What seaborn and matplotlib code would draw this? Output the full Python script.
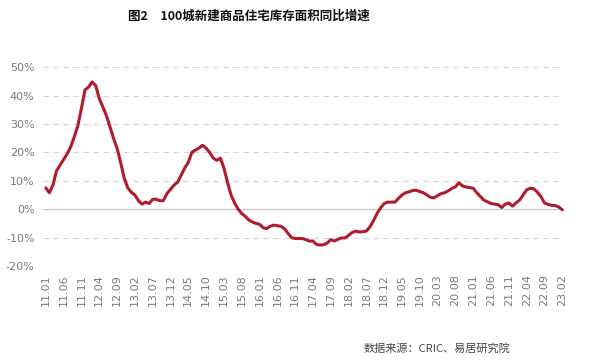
import numpy as np
import pandas as pd
import matplotlib
matplotlib.use("Agg")
import matplotlib.pyplot as plt
import seaborn as sns

# monthly YoY growth (%) of new housing inventory area, 2011.01 - 2023.02
growth = [
    7.5, 5.8, 8.5, 13.5, 15.5, 17.5, 19.5, 22.0, 25.5, 29.5,
    35.5, 42.0, 43.0, 44.8, 43.5, 39.0, 36.0, 33.0, 29.0, 25.0,
    21.5, 16.5, 11.0, 7.5, 6.0, 5.0, 3.0, 1.8, 2.5, 2.0,
    3.5, 3.5, 3.0, 3.0, 5.5, 7.0, 8.5, 9.5, 12.0, 14.5,
    16.5, 20.0, 20.8, 21.5, 22.5, 21.5, 20.0, 18.0, 17.2, 18.0,
    14.5, 9.5, 5.0, 2.2, 0.0, -1.5, -2.5, -3.8, -4.5, -5.0,
    -5.3, -6.5, -6.8, -6.0, -5.6, -5.8, -6.0, -6.8, -8.5, -10.0,
    -10.3, -10.3, -10.3, -10.7, -11.2, -11.2, -12.4, -12.6, -12.5, -11.9,
    -10.7, -11.2, -10.6, -10.1, -10.1, -9.2, -8.2, -7.7, -8.0, -7.9,
    -7.7, -6.2, -4.0, -1.5, 0.5, 2.0, 2.5, 2.5, 2.5, 3.8,
    5.0, 5.8, 6.1, 6.6, 6.7, 6.2, 5.8, 5.0, 4.2, 4.0,
    4.8, 5.5, 5.8, 6.5, 7.3, 7.9, 9.3, 8.2, 7.8, 7.6,
    7.4, 5.8, 4.5, 3.2, 2.6, 2.0, 1.8, 1.6, 0.6, 1.8,
    2.2, 1.1, 2.2, 3.2, 5.0, 6.8, 7.4, 7.2, 6.0, 4.5,
    2.2, 1.7, 1.4, 1.3, 0.8, -0.2,
]
months = pd.period_range("2011-01", "2023-02", freq="M")
labels = [p.strftime("%y.%m") for p in months]
tick_labels = labels[::5]

df = pd.DataFrame({"idx": range(len(growth)), "growth": growth})

sns.set_style("white")
plt.rcParams["font.family"] = ["DejaVu Sans"]

fig = plt.figure(figsize=(6.08, 3.61), dpi=100)
ax = fig.add_axes([0.0707, 0.263, 0.857, 0.551])

for v in [-20, -10, 10, 20, 30, 40, 50]:
    ax.axhline(v, color="#d4d4d4", lw=0.8, ls=(0, (5, 4)), zorder=0)
ax.axhline(0, color="#c8c8c8", lw=0.9, zorder=0)

sns.lineplot(data=df, x="idx", y="growth", color="#b01c2e", lw=2.2, ax=ax)

ax.set_ylim(-20, 50)
ax.set_xlim(-0.8, 145.5)
ax.set_yticks(range(-20, 51, 10))
ax.set_yticklabels([f"{v}%" for v in range(-20, 51, 10)])
ax.set_xticks(range(0, len(growth), 5))
ax.set_xticklabels(tick_labels, rotation=90)
ax.tick_params(axis="both", length=0, labelsize=8, labelcolor="#7a7a7a")
ax.tick_params(axis="y", pad=6)
ax.tick_params(axis="x", pad=6)
ax.set_xlabel("")
ax.set_ylabel("")
sns.despine(ax=ax, left=True, bottom=True)

fig.text(0.41, 0.955, "图2　100城新建商品住宅库存面积同比增速", ha="center", va="center",
         fontsize=9, fontweight="bold", family=["Noto Sans CJK SC", "DejaVu Sans"], color="#111111")
fig.text(0.84, 0.035, "数据来源：CRIC、易居研究院", ha="right", va="center",
         fontsize=8, family=["Noto Sans CJK SC", "DejaVu Sans"], color="#444444")

fig.savefig("out.png", dpi=100)
